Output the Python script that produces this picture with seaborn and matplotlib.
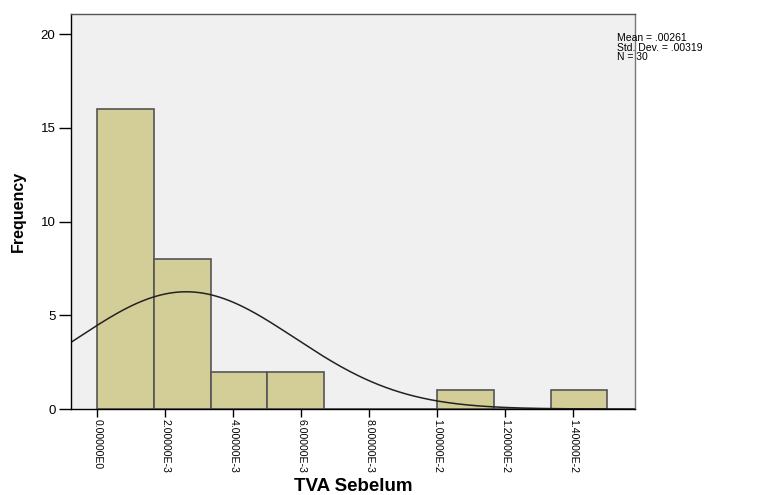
import matplotlib
matplotlib.use("Agg")
import matplotlib.pyplot as plt
import numpy as np
import pandas as pd
import seaborn as sns

sns.set_style("white")
plt.rcParams['font.family'] = ['Liberation Sans', 'DejaVu Sans']
plt.rcParams['text.color'] = 'black'
plt.rcParams['xtick.color'] = 'black'
plt.rcParams['ytick.color'] = 'black'

# histogram counts (9 bins of equal width from 0 to 0.015)
counts = [16, 8, 2, 2, 0, 0, 1, 0, 1]
bin_lo, bin_hi = 0.0, 0.015
mean, sd, n = 0.00261, 0.00319, 30
xticks = [0.000, 0.002, 0.004, 0.006, 0.008, 0.010, 0.012, 0.014]
xtick_labels = ["0.00000E0", "2.00000E-3", "4.00000E-3", "6.00000E-3",
                "8.00000E-3", "1.00000E-2", "1.20000E-2", "1.40000E-2"]
yticks = [0, 5, 10, 15, 20]

edges = np.linspace(bin_lo, bin_hi, len(counts) + 1)
centers = (edges[:-1] + edges[1:]) / 2
width = edges[1] - edges[0]
df = pd.DataFrame({"x": centers, "w": counts})

fig = plt.figure(figsize=(7.66, 4.95), dpi=100)
ax = fig.add_axes([70.7 / 766, 1 - 409 / 495, (635 - 70.7) / 766, (409 - 14) / 495])
ax.set_facecolor("#f0f0f0")

sns.histplot(data=df, x="x", weights="w", bins=list(edges), ax=ax,
             color="#d3ce97", alpha=1, edgecolor="#555555", linewidth=1.2)

# fitted normal curve
xlim = (-0.000788, 0.01581)
xs = np.linspace(xlim[0], xlim[1], 400)
ys = n * width * np.exp(-0.5 * ((xs - mean) / sd) ** 2) / (sd * np.sqrt(2 * np.pi))
sns.lineplot(x=xs, y=ys, ax=ax, color="#222222", linewidth=1.1)

ax.set_xlim(*xlim)
ax.set_ylim(0, 21.07)
ax.set_xticks(xticks)
ax.set_xticklabels(xtick_labels, rotation=270, fontsize=7.6)
ax.set_yticks(yticks)
ax.set_yticklabels([str(t) for t in yticks], fontsize=9.5)
ax.tick_params(axis="x", direction="out", length=6, width=1, color="black",
               bottom=True, pad=1)
ax.tick_params(axis="y", direction="out", length=9, width=1, color="black",
               left=True, pad=2)

for s in ax.spines.values():
    s.set_color("black")
    s.set_linewidth(1)
ax.spines["right"].set_color("#777777")
ax.spines["top"].set_color("#555555")

ax.set_xlabel("")
ax.set_ylabel("")
fig.text(353 / 766, 0, "TVA Sebelum", fontsize=13.5, fontweight="bold",
         ha="center", va="bottom")
fig.text(18 / 766, 1 - 211 / 495, "Frequency", fontsize=11.5, fontweight="bold",
         ha="center", va="center", rotation=90)

fig.text(617 / 766, 1 - 33 / 495,
         f"Mean = {mean:.5f}".replace("0.", ".") + "\n"
         + f"Std. Dev. = {sd:.5f}".replace("0.", ".") + f"\nN = {n}",
         fontsize=7.5, va="top", ha="left", linespacing=0.95)

fig.savefig("out.png", dpi=100)
